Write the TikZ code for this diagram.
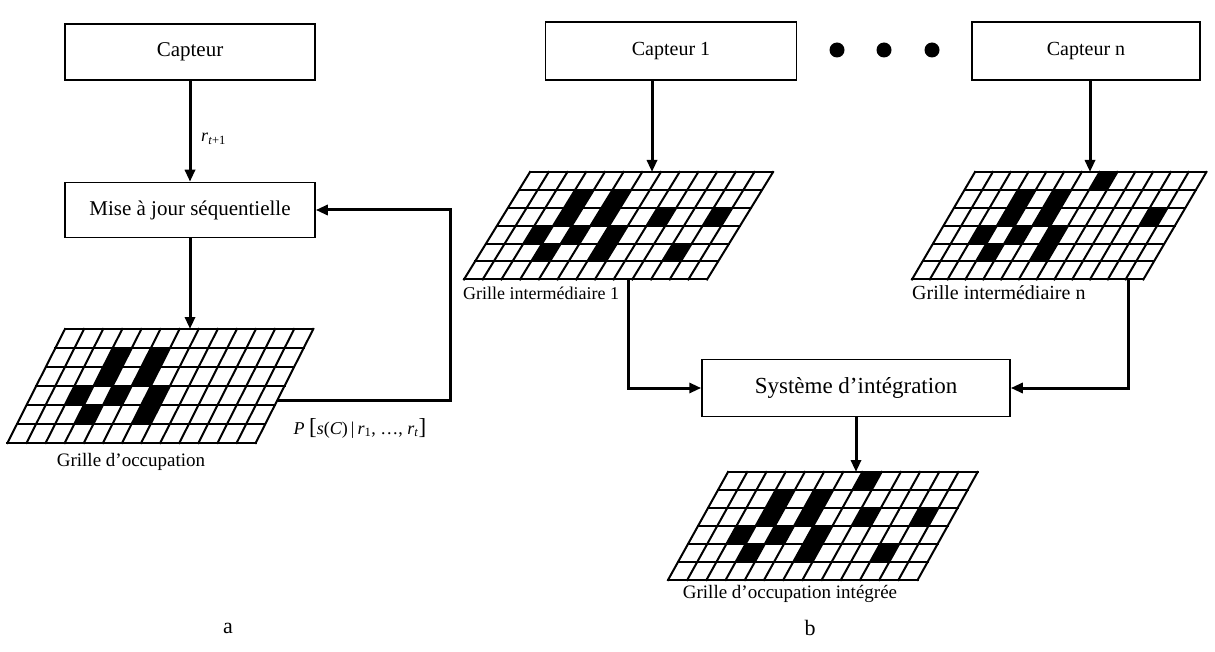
\documentclass[tikz,border=0pt]{standalone}
\usepackage{fontspec}
\setmainfont{Liberation Serif}
\usetikzlibrary{positioning, arrows.meta, calc}

% one sheared occupancy grid: origin, cell width, cell height, shear per row, black cells row/col
\newcommand{\occgrid}[5]{%
  \begin{scope}[shift={#1}, x={(#2pt,0pt)}, y={(-#4pt,-#3pt)}]
    \foreach \r/\c in {#5}
      \fill (\c,\r-1) -- ++(1,0) -- ++(0,1) -- ++(-1,0) -- cycle;
    \foreach \i in {0,...,6}
      \draw[line width=2pt, line cap=rect] (0,\i) -- (13,\i);
    \foreach \j in {0,...,13}
      \draw[line width=2pt, line cap=rect] (\j,0) -- (\j,6);
  \end{scope}}

\begin{document}
\begin{tikzpicture}[x=1pt, y=-1pt,
    sensorbox/.style={draw, line width=1.5pt, inner sep=0pt,
                      font=\fontsize{20}{24}\selectfont},
    arr/.style={-{Triangle[length=12pt,width=10pt]}, line width=3pt},
    lbl/.style={inner sep=0pt, font=\fontsize{19}{22}\selectfont}]
  \useasboundingbox (0,0) rectangle (1215,652);

  % Part a : sequential update
  \node[sensorbox, minimum width=250pt, minimum height=56pt, font=\fontsize{21}{24}\selectfont]
        (capL) at (190,52) {Capteur};
  \node[sensorbox, minimum width=250pt, minimum height=55pt, font=\fontsize{21}{24}\selectfont]
        (majL) at (190,210) {Mise à jour séquentielle};
  \draw[arr] (capL) -- (majL);
  \node[lbl, anchor=west, font=\fontsize{18}{20}\selectfont] (rLbl) at (201,139)
        {\textit{r}\textsubscript{\textit{t}+1}};

  % Occupancy grid and feedback
  \occgrid{(65,329)}{19.1}{19}{9.6}{2/3,2/5,3/3,3/5,4/2,4/4,4/6,5/3,5/6}
  \coordinate (gridLtop) at (190,329);
  \coordinate (gridLout) at (277.4,400);
  \coordinate (fbCorner) at (450,400);
  \draw[arr] (majL) -- (gridLtop);
  \draw[arr] (gridLout) -- (fbCorner) |- (majL.east);
  \node[lbl, font=\fontsize{18}{20}\selectfont] (pLbl) at (360,428)
        {\textit{P} {\fontsize{23}{24}\selectfont[}\textit{s}(\textit{C})\,|\,\textit{r}\textsubscript{1},
         \ldots, \textit{r}\textsubscript{\textit{t}}{\fontsize{23}{24}\selectfont]}};
  \node[lbl] (lblL) at (131,462) {Grille d’occupation};
  \node[font=\fontsize{22}{24}\selectfont] (capA) at (228,628) {a};

  % Part b : sensors
  \node[sensorbox, minimum width=251pt, minimum height=58pt] (cap1) at (671,51) {Capteur 1};
  \foreach \x in {837,884,932}
    \fill (\x,50) circle (7.5pt);
  \node[sensorbox, minimum width=228pt, minimum height=58pt] (capN) at (1086,51) {Capteur n};

  % Intermediate grids
  \occgrid{(530,172)}{18.7}{17.9}{11}{2/3,2/5,3/3,3/5,4/2,4/4,4/6,5/3,5/6,3/8,3/11,5/10}
  \occgrid{(975,172)}{17.8}{17.9}{10.5}{2/3,2/5,3/3,3/5,4/2,4/4,4/6,5/3,5/6,1/7,3/11}
  \coordinate (gridMtop) at (652,172);
  \coordinate (gridNtop) at (1090,172);
  \draw[arr] (gridMtop |- cap1.south) -- (gridMtop);
  \draw[arr] (gridNtop |- capN.south) -- (gridNtop);
  \node[lbl, anchor=west, font=\fontsize{18}{22}\selectfont] (lblM) at (463,293)
        {Grille intermédiaire 1};
  \node[lbl, anchor=west, font=\fontsize{20}{22}\selectfont] (lblN) at (912,293)
        {Grille intermédiaire n};

  % Integration
  \node[sensorbox, minimum width=308pt, minimum height=57pt, font=\fontsize{23}{26}\selectfont]
        (sys) at (856,388) {Système d’intégration};
  \coordinate (gridMout) at (628,279.4);
  \coordinate (gridNout) at (1128,279.4);
  \draw[arr] (gridMout) |- (sys.west);
  \draw[arr] (gridNout) |- (sys.east);

  \occgrid{(728,472)}{19.2}{18}{10}{2/3,2/5,3/3,3/5,4/2,4/4,4/6,5/3,5/6,1/7,3/8,3/11,5/10}
  \coordinate (gridItop) at (856,472);
  \draw[arr] (sys) -- (gridItop);
  \node[lbl] (lblI) at (790,594) {Grille d’occupation intégrée};
  \node[font=\fontsize{22}{24}\selectfont] (capB) at (810,628) {b};
\end{tikzpicture}
\end{document}
